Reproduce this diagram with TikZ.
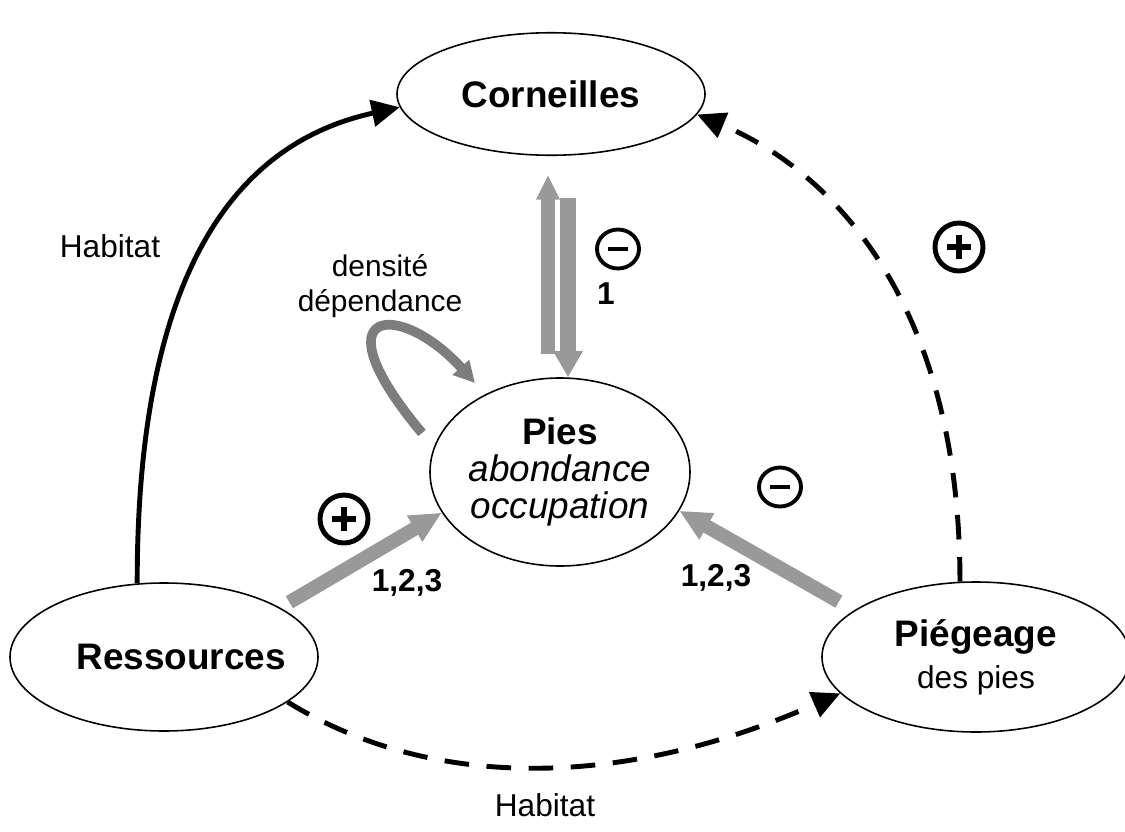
\documentclass[tikz,border=0pt]{standalone}
\usepackage{fontspec}
\setmainfont{Liberation Sans}
\usetikzlibrary{arrows.meta,calc,shapes.geometric}
\definecolor{grisfl}{RGB}{153,153,153}
\definecolor{grisboucle}{RGB}{125,125,125}
\tikzset{>=Stealth,
  bulle/.style={ellipse,draw,line width=.9pt,inner sep=0pt,align=center},
  gros/.style={font=\fontsize{21}{21}\selectfont},
  etiq/.style={font=\fontsize{18}{20}\selectfont,align=center},
  chiffre/.style={font=\fontsize{18}{20}\selectfont\bfseries},
  lien/.style={line width=2.8pt,-{Triangle[length=16pt,width=15pt]}},
  pointille/.style={lien,dash pattern=on 14pt off 10pt},
  effet/.style={grisfl,line width=8pt,-{Triangle[length=18pt,width=16pt]}},
  boucle/.style={grisboucle,line width=5.5pt,-{Triangle[length=12pt,width=12pt]}},
  signeplus/.style={circle,draw,line width=2.8pt,minimum size=.96cm,inner sep=0pt,
    path picture={\draw[line width=3pt] ([xshift=-7pt]path picture bounding box.center)--([xshift=7pt]path picture bounding box.center)
      ([yshift=-7pt]path picture bounding box.center)--([yshift=7pt]path picture bounding box.center);}},
  signemoins/.style={ellipse,draw,line width=2.2pt,minimum width=.84cm,minimum height=.78cm,inner sep=0pt,
    path picture={\draw[line width=2.3pt] ([xshift=-5.5pt]path picture bounding box.center)--([xshift=5.5pt]path picture bounding box.center);}}
}
\begin{document}
\begin{tikzpicture}[x=.2mm,y=-.2mm]
\useasboundingbox (0,0) rectangle (1125,832);
% les quatre bulles
\node[bulle,gros,minimum width=6.16cm,minimum height=2.45cm] (corn) at (551,94) {\textbf{Corneilles}};
\node[bulle,gros,minimum width=5.2cm,minimum height=3.76cm,inner xsep=-3pt] (pies) at (560,472) {\textbf{Pies}\\\textit{abondance}\\\textit{occupation}};
\node[bulle,gros,minimum width=6.16cm,minimum height=2.96cm] (res) at (164,657) {\hbox to 0pt{\hss\hspace{.68cm}\textbf{Ressources}\hss}};
\node[bulle,font=\fontsize{21}{24}\selectfont,minimum width=6.16cm,minimum height=3cm] (pieg) at (976,657) {\textbf{Piégeage}\\{\fontsize{18}{24}\selectfont des pies}};
% liens habitat
\draw[lien] (res.110) .. controls (137,250) and (250,140) .. (corn.185);
\draw[pointille] (pieg.102) .. controls (960,300) and (830,170) .. (corn.-8);
\draw[pointille] (res.-20) .. controls (430,790) and (620,790) .. (pieg.195);
% effets sur les pies
\draw[effet,shorten <=6pt] (res.23) -- (pies.199);
\draw[effet,shorten <=10pt] (pieg.159) -- (pies.-18);
\draw[effet,-{Triangle[length=14pt,width=12.5pt]}] ($(pies.north)+(-12,-23)$) -- ($(corn.south)+(-3,19)$);
\draw[effet,line width=9.5pt,-{Triangle[length=15pt,width=16pt]}] ($(corn.south)+(17,42)$) -- ($(pies.north)+(8,0)$);
\coordinate (ddA) at ($(pies.center)+(-138,-39)$);
\coordinate (ddB) at ($(pies.center)+(-85,-89)$);
\draw[boucle] (ddA) .. controls (315,305) and (400,300) .. (ddB);
% signes et textes
\node[signemoins] (moinsH) at (618,249) {};
\node[signemoins] (moinsD) at (780,487) {};
\node[signeplus] (plusG) at (344,519) {};
\node[signeplus] (plusD) at (959,247) {};
\node[chiffre] (un) at (606,294) {1};
\node[chiffre] (tousG) at (407,583) {1,2,3};
\node[chiffre] (tousD) at (716,578) {1,2,3};
\node[etiq] (habG) at (110,246) {Habitat};
\node[etiq] (habB) at (545,805) {Habitat};
\node[etiq,font=\fontsize{17}{20}\selectfont] (dens) at (380,286) {densité\\dépendance};
\end{tikzpicture}
\end{document}
